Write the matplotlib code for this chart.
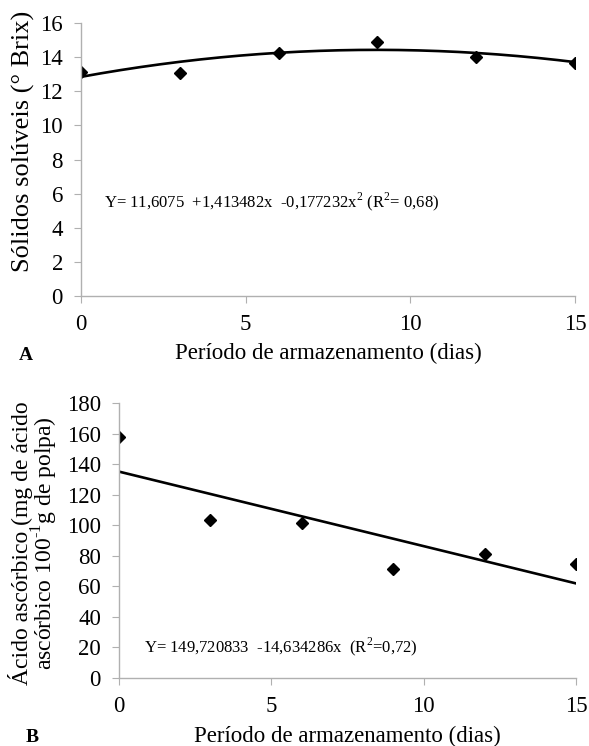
import numpy as np
import matplotlib
matplotlib.use("Agg")
import matplotlib.pyplot as plt

plt.rcParams['font.family'] = ['Liberation Serif', 'DejaVu Serif']
plt.rcParams['mathtext.fontset'] = 'custom'
plt.rcParams['mathtext.rm'] = 'Liberation Serif'

days = [0, 3, 6, 9, 12, 15]
brix = [13.12, 13.08, 14.23, 14.89, 14.0, 13.65]
ascorbic = [157.7, 103.7, 101.7, 71.1, 80.9, 74.8]

# regression coefficients (x = sample index 1..6)
coefA = [11.6075, 1.413482, -0.177232]
coefB = [149.720833, -14.634286]

eqA = "Y= 11,6075  +1,413482x  -0,177232x$^{2}$ (R$^{2}$= 0,68)"
eqB = "Y= 149,720833  -14,634286x  (R$^{2}$=0,72)"

W, H = 589, 746
fig = plt.figure(figsize=(W / 100, H / 100), dpi=100)
axA = fig.add_axes([81 / W, 1 - 296 / H, 494 / W, 273 / H])
axB = fig.add_axes([119 / W, 1 - 678 / H, 457 / W, 275 / H])

xs = np.linspace(0, 15, 200)
t = xs / 3 + 1
fitA = coefA[0] + coefA[1] * t + coefA[2] * t ** 2
fitB = coefB[0] + coefB[1] * t

gray = '#b0b0b0'
for ax in (axA, axB):
    for s in ('top', 'right'):
        ax.spines[s].set_visible(False)
    for s in ('left', 'bottom'):
        ax.spines[s].set_color(gray)
        ax.spines[s].set_linewidth(1.0)
    ax.tick_params(axis='both', colors=gray, labelcolor='black', labelsize=16.5,
                   length=5, direction='out', pad=8)
    ax.set_xlim(0, 15)
    ax.set_xticks([0, 5, 10, 15])

def px(x, y):
    return x / W, 1 - y / H

axA.plot(xs, fitA, color='black', lw=1.9)
axA.plot(days, brix, linestyle='none', marker='D', color='black', markersize=6)
axA.set_ylim(0, 16)
axA.set_yticks(range(0, 17, 2))
axA.text(0.70, 5.55, eqA, fontsize=12, va='center', ha='left')
fig.text(*px(23, 141), "Sólidos solúveis (° Brix)", fontsize=19, rotation=90,
         ha='center', va='center')
fig.text(*px(328, 353), "Período de armazenamento (dias)", fontsize=16.5,
         ha='center', va='center')
fig.text(*px(26, 355), "A", fontsize=14, fontweight='bold', ha='center', va='center')

axB.plot(xs, fitB, color='black', lw=1.9)
axB.plot(days, ascorbic, linestyle='none', marker='D', color='black', markersize=6)
axB.set_ylim(0, 180)
axB.set_yticks(range(0, 181, 20))
axB.text(0.82, 20.3, eqB, fontsize=12, va='center', ha='left')
fig.text(*px(34, 543), "Ácido ascórbico (mg de ácido\nascórbico 100$^{\\text{-}1}$g de polpa)",
         fontsize=17, rotation=90, linespacing=0.85, ha='center', va='center')
fig.text(*px(347, 736), "Período de armazenamento (dias)", fontsize=16.5,
         ha='center', va='center')
fig.text(*px(32, 738), "B", fontsize=14, fontweight='bold', ha='center', va='center')

fig.savefig("out.png", dpi=100)
